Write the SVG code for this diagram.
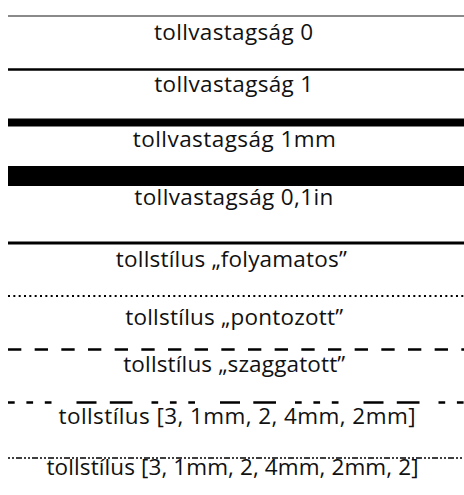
<svg xmlns="http://www.w3.org/2000/svg" width="464" height="495" viewBox="0 0 464 495">
  <style>
    .bg { fill: #ffffff; }
    .pen { fill: none; stroke: #000000; }
    .hair { fill: none; stroke: #8a8a8a; }
    .label { font-family: "Open Sans", "Noto Sans", "DejaVu Sans", sans-serif; font-size: 22.5px; fill: #111111; text-anchor: middle; }
  </style>
  <rect class="bg" x="0" y="0" width="464" height="495"/>

  <!-- sample strokes, one per pen setting -->
  <g id="strokes">
    <line id="w0" class="hair" x1="8" y1="16" x2="464" y2="16" stroke-width="2"/>
    <line id="w1" class="pen" x1="8" y1="69.5" x2="464" y2="69.5" stroke-width="2.5"/>
    <line id="w1mm" class="pen" x1="8" y1="122.4" x2="464" y2="122.4" stroke-width="8"/>
    <line id="w01in" class="pen" x1="8" y1="176" x2="464" y2="176" stroke-width="20"/>
    <line id="solid" class="pen" x1="8" y1="243" x2="464" y2="243" stroke-width="3"/>
    <line id="dotted" class="pen" x1="8" y1="296" x2="464" y2="296" stroke-width="2" stroke-dasharray="2 3.333"/>
    <line id="dashed" class="pen" x1="8" y1="349.5" x2="464" y2="349.5" stroke-width="2.4" stroke-dasharray="13.333 13.333"/>
    <line id="custom1" class="pen" x1="8" y1="402.5" x2="464" y2="402.5" stroke-width="2.4" stroke-dasharray="6.7 11.7 6.7 11.7 6.7 25 20 13.3 22.7 19"/>
    <line id="custom2" class="pen" x1="8" y1="458" x2="464" y2="458" stroke-width="1.5" stroke-dasharray="2 2 2 2 6 2"/>
  </g>

  <!-- captions -->
  <g id="captions">
    <text id="t-w0" class="label" x="233.5" y="40" textLength="159">tollvastagság 0</text>
    <text id="t-w1" class="label" x="233.7" y="92" textLength="159">tollvastagság 1</text>
    <text id="t-w1mm" class="label" x="234.3" y="146.5" textLength="203">tollvastagság 1mm</text>
    <text id="t-w01in" class="label" x="233.8" y="205" textLength="199">tollvastagság 0,1in</text>
    <text id="t-solid" class="label" x="231.3" y="266.5" textLength="231">tollstílus „folyamatos”</text>
    <text id="t-dotted" class="label" x="234.2" y="325" textLength="218">tollstílus „pontozott”</text>
    <text id="t-dashed" class="label" x="234.2" y="371.5" textLength="222">tollstílus „szaggatott”</text>
    <text id="t-custom1" class="label" x="237" y="423.5" textLength="357">tollstílus [3, 1mm, 2, 4mm, 2mm]</text>
    <text id="t-custom2" class="label" x="232.5" y="475" textLength="372">tollstílus [3, 1mm, 2, 4mm, 2mm, 2]</text>
  </g>
</svg>
